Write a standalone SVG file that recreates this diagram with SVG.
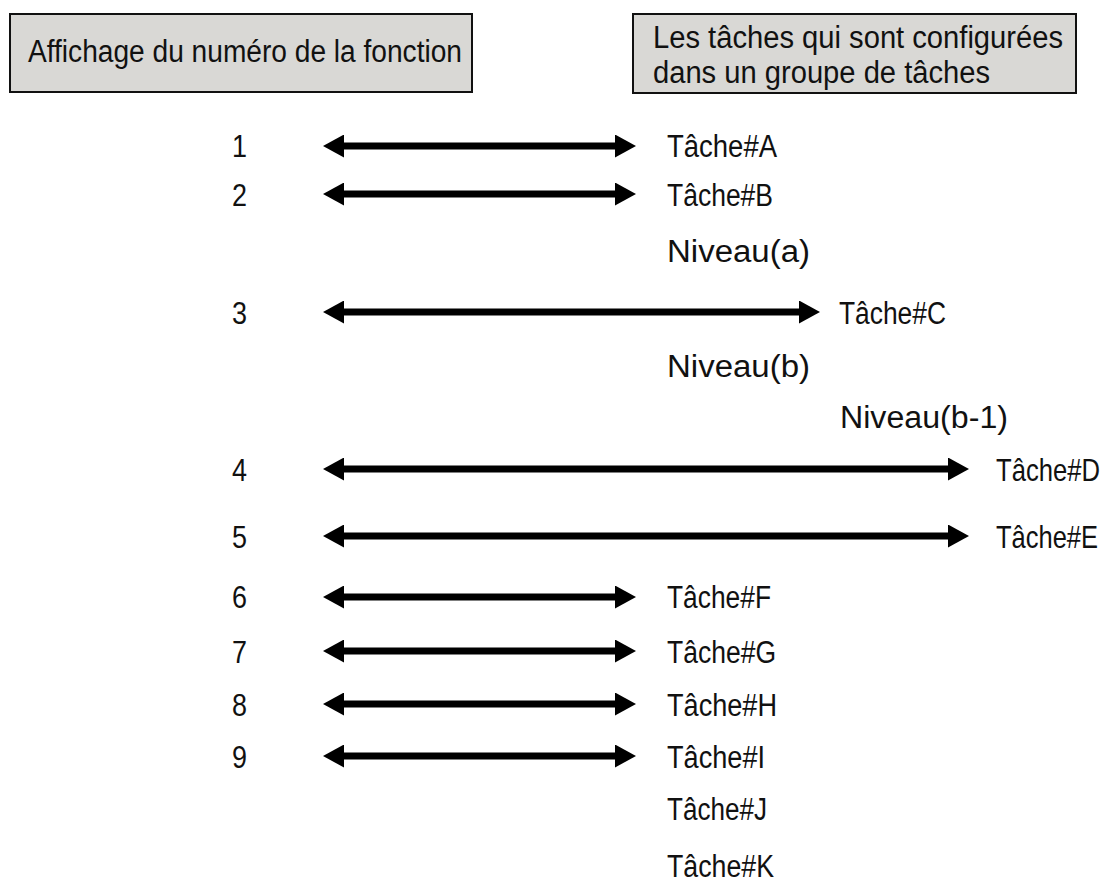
<svg xmlns="http://www.w3.org/2000/svg" width="1109" height="890" viewBox="0 0 1109 890">
<style>
text{font-family:"Liberation Sans",Arial,sans-serif;font-size:31px;fill:#111}
.box{fill:#d9d8d5;stroke:#111;stroke-width:2}
.arr{stroke:#000;stroke-width:7;marker-start:url(#ah);marker-end:url(#ah)}
</style>
<defs>
<marker id="ah" viewBox="0 0 21 23" refX="1" refY="11.5" markerWidth="21" markerHeight="23" markerUnits="userSpaceOnUse" orient="auto-start-reverse">
<path d="M0,0 L21,11.5 L0,23 z" fill="#000"/>
</marker>
</defs>
<g id="header-left">
<rect class="box" x="10" y="14" width="462" height="78"/>
<text x="28" y="62" textLength="434" lengthAdjust="spacingAndGlyphs">Affichage du numéro de la fonction</text>
</g>
<g id="header-right">
<rect class="box" x="633" y="14" width="443" height="79"/>
<text x="653" y="48" textLength="410" lengthAdjust="spacingAndGlyphs">Les tâches qui sont configurées</text>
<text x="653" y="83" textLength="337" lengthAdjust="spacingAndGlyphs">dans un groupe de tâches</text>
</g>
<g id="numbers">
<text x="232" y="157" textLength="15" lengthAdjust="spacingAndGlyphs">1</text>
<text x="232" y="206" textLength="15" lengthAdjust="spacingAndGlyphs">2</text>
<text x="232" y="324" textLength="15" lengthAdjust="spacingAndGlyphs">3</text>
<text x="232" y="481" textLength="15" lengthAdjust="spacingAndGlyphs">4</text>
<text x="232" y="548" textLength="15" lengthAdjust="spacingAndGlyphs">5</text>
<text x="232" y="608" textLength="15" lengthAdjust="spacingAndGlyphs">6</text>
<text x="232" y="663" textLength="15" lengthAdjust="spacingAndGlyphs">7</text>
<text x="232" y="716" textLength="15" lengthAdjust="spacingAndGlyphs">8</text>
<text x="232" y="768" textLength="15" lengthAdjust="spacingAndGlyphs">9</text>
</g>
<g id="tasks">
<text x="667" y="157" textLength="110" lengthAdjust="spacingAndGlyphs">Tâche#A</text>
<text x="667" y="206" textLength="106" lengthAdjust="spacingAndGlyphs">Tâche#B</text>
<text x="667" y="262" textLength="143" lengthAdjust="spacingAndGlyphs">Niveau(a)</text>
<text x="839" y="324" textLength="107" lengthAdjust="spacingAndGlyphs">Tâche#C</text>
<text x="667" y="377" textLength="143" lengthAdjust="spacingAndGlyphs">Niveau(b)</text>
<text x="840" y="428" textLength="168" lengthAdjust="spacingAndGlyphs">Niveau(b-1)</text>
<text transform="translate(996,481) scale(0.827,1)">Tâche#D</text>
<text transform="translate(996,548) scale(0.823,1)">Tâche#E</text>
<text x="667" y="608" textLength="104" lengthAdjust="spacingAndGlyphs">Tâche#F</text>
<text x="667" y="663" textLength="109" lengthAdjust="spacingAndGlyphs">Tâche#G</text>
<text x="667" y="716" textLength="110" lengthAdjust="spacingAndGlyphs">Tâche#H</text>
<text x="667" y="768" textLength="98" lengthAdjust="spacingAndGlyphs">Tâche#I</text>
<text x="667" y="820" textLength="100" lengthAdjust="spacingAndGlyphs">Tâche#J</text>
<text x="667" y="877" textLength="107" lengthAdjust="spacingAndGlyphs">Tâche#K</text>
</g>
<g id="connectors">
<line class="arr" x1="343" y1="146" x2="616" y2="146"/>
<line class="arr" x1="343" y1="194" x2="616" y2="194"/>
<line class="arr" x1="343" y1="312" x2="800" y2="312"/>
<line class="arr" x1="343" y1="469" x2="949" y2="469"/>
<line class="arr" x1="343" y1="536" x2="949" y2="536"/>
<line class="arr" x1="343" y1="597" x2="616" y2="597"/>
<line class="arr" x1="343" y1="651" x2="616" y2="651"/>
<line class="arr" x1="343" y1="704" x2="616" y2="704"/>
<line class="arr" x1="343" y1="756" x2="616" y2="756"/>
</g>
</svg>
